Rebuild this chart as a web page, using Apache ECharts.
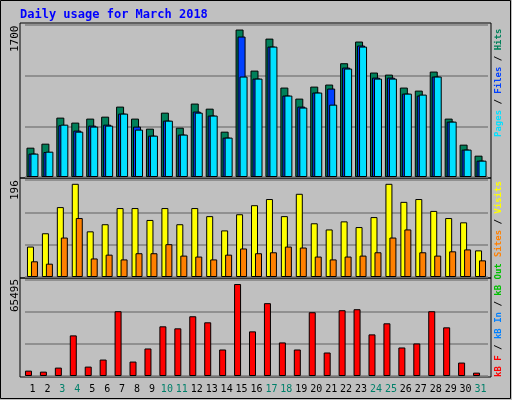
<!DOCTYPE html>
<html><head><meta charset="utf-8">
<script src="https://cdn.jsdelivr.net/npm/echarts@6/dist/echarts.min.js"></script>
<style>html,body{margin:0;padding:0;background:#c0c0c0}#c{width:512px;height:400px}</style>
</head><body><div id="c"></div>
<script>
const days = Array.from({length:31},(_,i)=>String(i+1));
const weekend = ['3','4','10','11','17','18','24','25','31'];
const hits  = [330,375,668,612,657,679,792,657,544,724,555,826,769,510,1659,1197,1557,1006,882,1017,1040,1280,1524,1175,1152,1006,972,1186,657,364,240];
const files = [263,281,582,522,578,589,713,567,465,634,477,736,691,443,1580,1107,1467,916,792,950,995,1231,1479,1118,1118,938,916,1130,623,308,184];
const pages = [263,285,589,510,567,578,713,533,465,634,477,724,691,443,1130,1107,1467,916,781,950,814,1220,1467,1107,1107,938,927,1130,623,308,184];
const visits= [64,92,147,196,96,111,145,145,120,145,111,145,128,98,132,151,164,128,175,113,100,117,105,126,196,158,164,139,124,115,56];
const sites = [33,28,83,124,39,47,37,50,50,69,45,43,37,47,60,50,52,64,62,43,37,43,45,52,83,100,52,45,54,58,35];
const kbF   = [3824,3107,5975,28919,6692,11711,46127,10277,19598,35372,33938,42542,38240,18881,65495,31787,51863,23900,18881,45410,16730,46844,47561,29636,37523,20315,23183,46127,34655,9560,2390];
const maxLabels = ['1700','196','65495'];

const F = 'DejaVu Sans Mono';
const grids = [
  {left:25,width:463,top:25,height:152},
  {left:25,width:463,top:180,height:97},
  {left:25,width:463,top:280,height:96}
];
const ax = (i,show)=>({type:'category',data:days,gridIndex:i,
  axisLine:{show:false},axisTick:{show:false},
  axisLabel:{show:show,interval:0,margin:8,
    formatter:v=>weekend.includes(v)?'{w|'+v+'}':'{n|'+v+'}',
    rich:{w:{color:'#00806a',fontFamily:F,fontSize:10},n:{color:'#000',fontFamily:F,fontSize:10}}}});
const yx = (i,max)=>({type:'value',gridIndex:i,min:0,max:max,interval:max/3,
  axisLabel:{show:false},axisLine:{show:false},axisTick:{show:false},
  splitLine:{lineStyle:{color:'#808080',width:1.5}}});
const bs = (name,data,c,xi,w,gap)=>({type:'bar',name,data,xAxisIndex:xi,yAxisIndex:xi,
  barWidth:w,barGap:gap,itemStyle:{color:c,borderColor:'#000',borderWidth:1},silent:true});

const frames = grids.map(g=>({type:'rect',z:-1,shape:{x:20,y:g.top-2,width:471,height:g.height+3},
  style:{fill:null,stroke:'#000',lineWidth:1}}));
const leftLbl = [[15,52],[15,200],[15,312]].map((p,i)=>({type:'text',x:p[0],y:p[1],rotation:Math.PI/2,
  style:{text:maxLabels[i],font:'11px '+F,fill:'#000',textAlign:'left',textVerticalAlign:'middle'}}));
const rt = (x,y,rich,txt)=>({type:'text',x,y,rotation:Math.PI/2,
  style:{text:txt,rich,font:'9px '+F,textAlign:'left',textVerticalAlign:'middle'}});
const R = c=>({fill:c,font:'bold 9px '+F});

const chart = echarts.init(document.getElementById('c'));
chart.setOption({
  backgroundColor:'#c0c0c0',animation:false,
  grid:grids,
  xAxis:[ax(0,false),ax(1,false),ax(2,true)],
  yAxis:[yx(0,1710),yx(1,204),yx(2,68360)],
  series:[
    bs('Hits',hits,'#00805a',0,8,'-75%'),
    bs('Files',files,'#0040ff',0,8,'-75%'),
    bs('Pages',pages,'#00e0ff',0,8,'-75%'),
    bs('Visits',visits,'#ffff00',1,7,'-43%'),
    bs('Sites',sites,'#ff8000',1,7,'-43%'),
    bs('kB F',kbF,'#ff0000',2,7,'14%'),
    {type:'bar',data:[],xAxisIndex:2,yAxisIndex:2,barWidth:7,barGap:'14%'}
  ],
  graphic:[
    {type:'rect',z:-2,shape:{x:0.5,y:0.5,width:510,height:398},style:{fill:null,stroke:'#000',lineWidth:1}},
    {type:'text',x:20,y:15,style:{text:'Daily usage for March 2018',font:'bold 12px '+F,fill:'#0000ff',textVerticalAlign:'middle'}},
    ...frames,...leftLbl,
    rt(499,137,{p:R('#00e0ff'),s:R('#000'),f:R('#0040ff'),h:R('#00805a')},'{p|Pages}{s| / }{f|Files}{s| / }{h|Hits}'),
    rt(499,257,{a:R('#ff8000'),s:R('#000'),b:R('#ffff00')},'{a|Sites}{s| / }{b|Visits}'),
    rt(499,377,{a:R('#ff0000'),s:R('#000'),b:R('#0080ff'),c:R('#00c000')},'{a|kB F}{s| / }{b|kB In}{s| / }{c|kB Out}')
  ]
});
</script></body></html>
